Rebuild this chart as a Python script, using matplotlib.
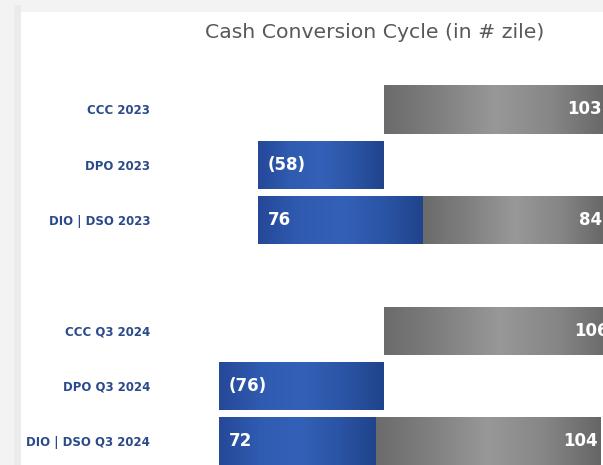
import numpy as np
import matplotlib.pyplot as plt
from matplotlib.colors import LinearSegmentedColormap
from matplotlib.patches import Rectangle

# date
title = 'Cash Conversion Cycle (in # zile)'
periods = ['2023', 'Q3 2024']
ccc = [103, 106]
dpo = [58, 76]
dio = [76, 72]
dso = [84, 104]

blue_cm = LinearSegmentedColormap.from_list('b', ['#264898', '#2f5bb0', '#3461b8', '#2b55a6', '#20448c'])
grey_cm = LinearSegmentedColormap.from_list('g', ['#6b6b6b', '#808080', '#989898', '#868686', '#666666'])
grad = np.linspace(0, 1, 256)[np.newaxis, :]


def shade(ax, bars, cmap):
    for p in bars:
        x0, y0 = p.get_x(), p.get_y()
        w, h = p.get_width(), p.get_height()
        im = ax.imshow(grad, cmap=cmap, aspect='auto', extent=[x0, x0 + w, y0 + h, y0],
                       interpolation='bilinear', zorder=3)
        im.set_clip_path(p)


fig = plt.figure(figsize=(6.03, 4.65), dpi=100)
fig.patch.set_facecolor('#f3f3f3')
fig.patches.append(Rectangle((14 / 603, 0), 7 / 603, 1 - 5 / 465, transform=fig.transFigure,
                             facecolor='#ebebeb', edgecolor='none', zorder=0))
fig.patches.append(Rectangle((21 / 603, 0), 1, 1 - 12 / 465, transform=fig.transFigure,
                             facecolor='white', edgecolor='none', zorder=0))

ax = fig.add_axes([160 / 603, 0, (603 - 160) / 603, (465 - 60) / 465])
ax.set_facecolor('none')
ax.set_zorder(2)

h = 0.87
ticks, ticklabels = [], []
for i, per in enumerate(periods):
    base = i * 4
    b1 = ax.barh(base, ccc[i], left=0, height=h, color='#858585', zorder=2)
    b2 = ax.barh(base + 1, dpo[i], left=-dpo[i], height=h, color='#2d55a8', zorder=2)
    b3 = ax.barh(base + 2, dio[i], left=-dpo[i], height=h, color='#2d55a8', zorder=2)
    b4 = ax.barh(base + 2, dso[i], left=-dpo[i] + dio[i], height=h, color='#858585', zorder=2)
    shade(ax, b1, grey_cm)
    shade(ax, b4, grey_cm)
    shade(ax, b2, blue_cm)
    shade(ax, b3, blue_cm)

    kw = dict(color='white', fontsize=12, fontweight='bold', va='center', zorder=5)
    ax.text(ccc[i] - 2.5, base, str(ccc[i]), ha='right', **kw)
    ax.text(-dpo[i] + 4.5, base + 1, '(%d)' % dpo[i], ha='left', **kw)
    ax.text(-dpo[i] + 4.5, base + 2, str(dio[i]), ha='left', **kw)
    ax.text(-dpo[i] + dio[i] + dso[i] - 1.5, base + 2, str(dso[i]), ha='right', **kw)

    ticks += [base, base + 1, base + 2]
    ticklabels += ['CCC ' + per, 'DPO ' + per, 'DIO | DSO ' + per]

ax.set_xlim(-103.2, 100.9)
ax.set_ylim(6.43, -0.895)
ax.set_yticks(ticks)
ax.set_yticklabels(ticklabels, color='#2b4a8b', fontsize=8.5, fontweight='bold')
ax.tick_params(axis='y', length=0, pad=7)
ax.set_xticks([])
for s in ax.spines.values():
    s.set_visible(False)

fig.text(375 / 603, 1 - 32 / 465, title, ha='center', va='center', fontsize=14.7, color='#595959')

fig.savefig('out.png', dpi=100, facecolor=fig.get_facecolor())
